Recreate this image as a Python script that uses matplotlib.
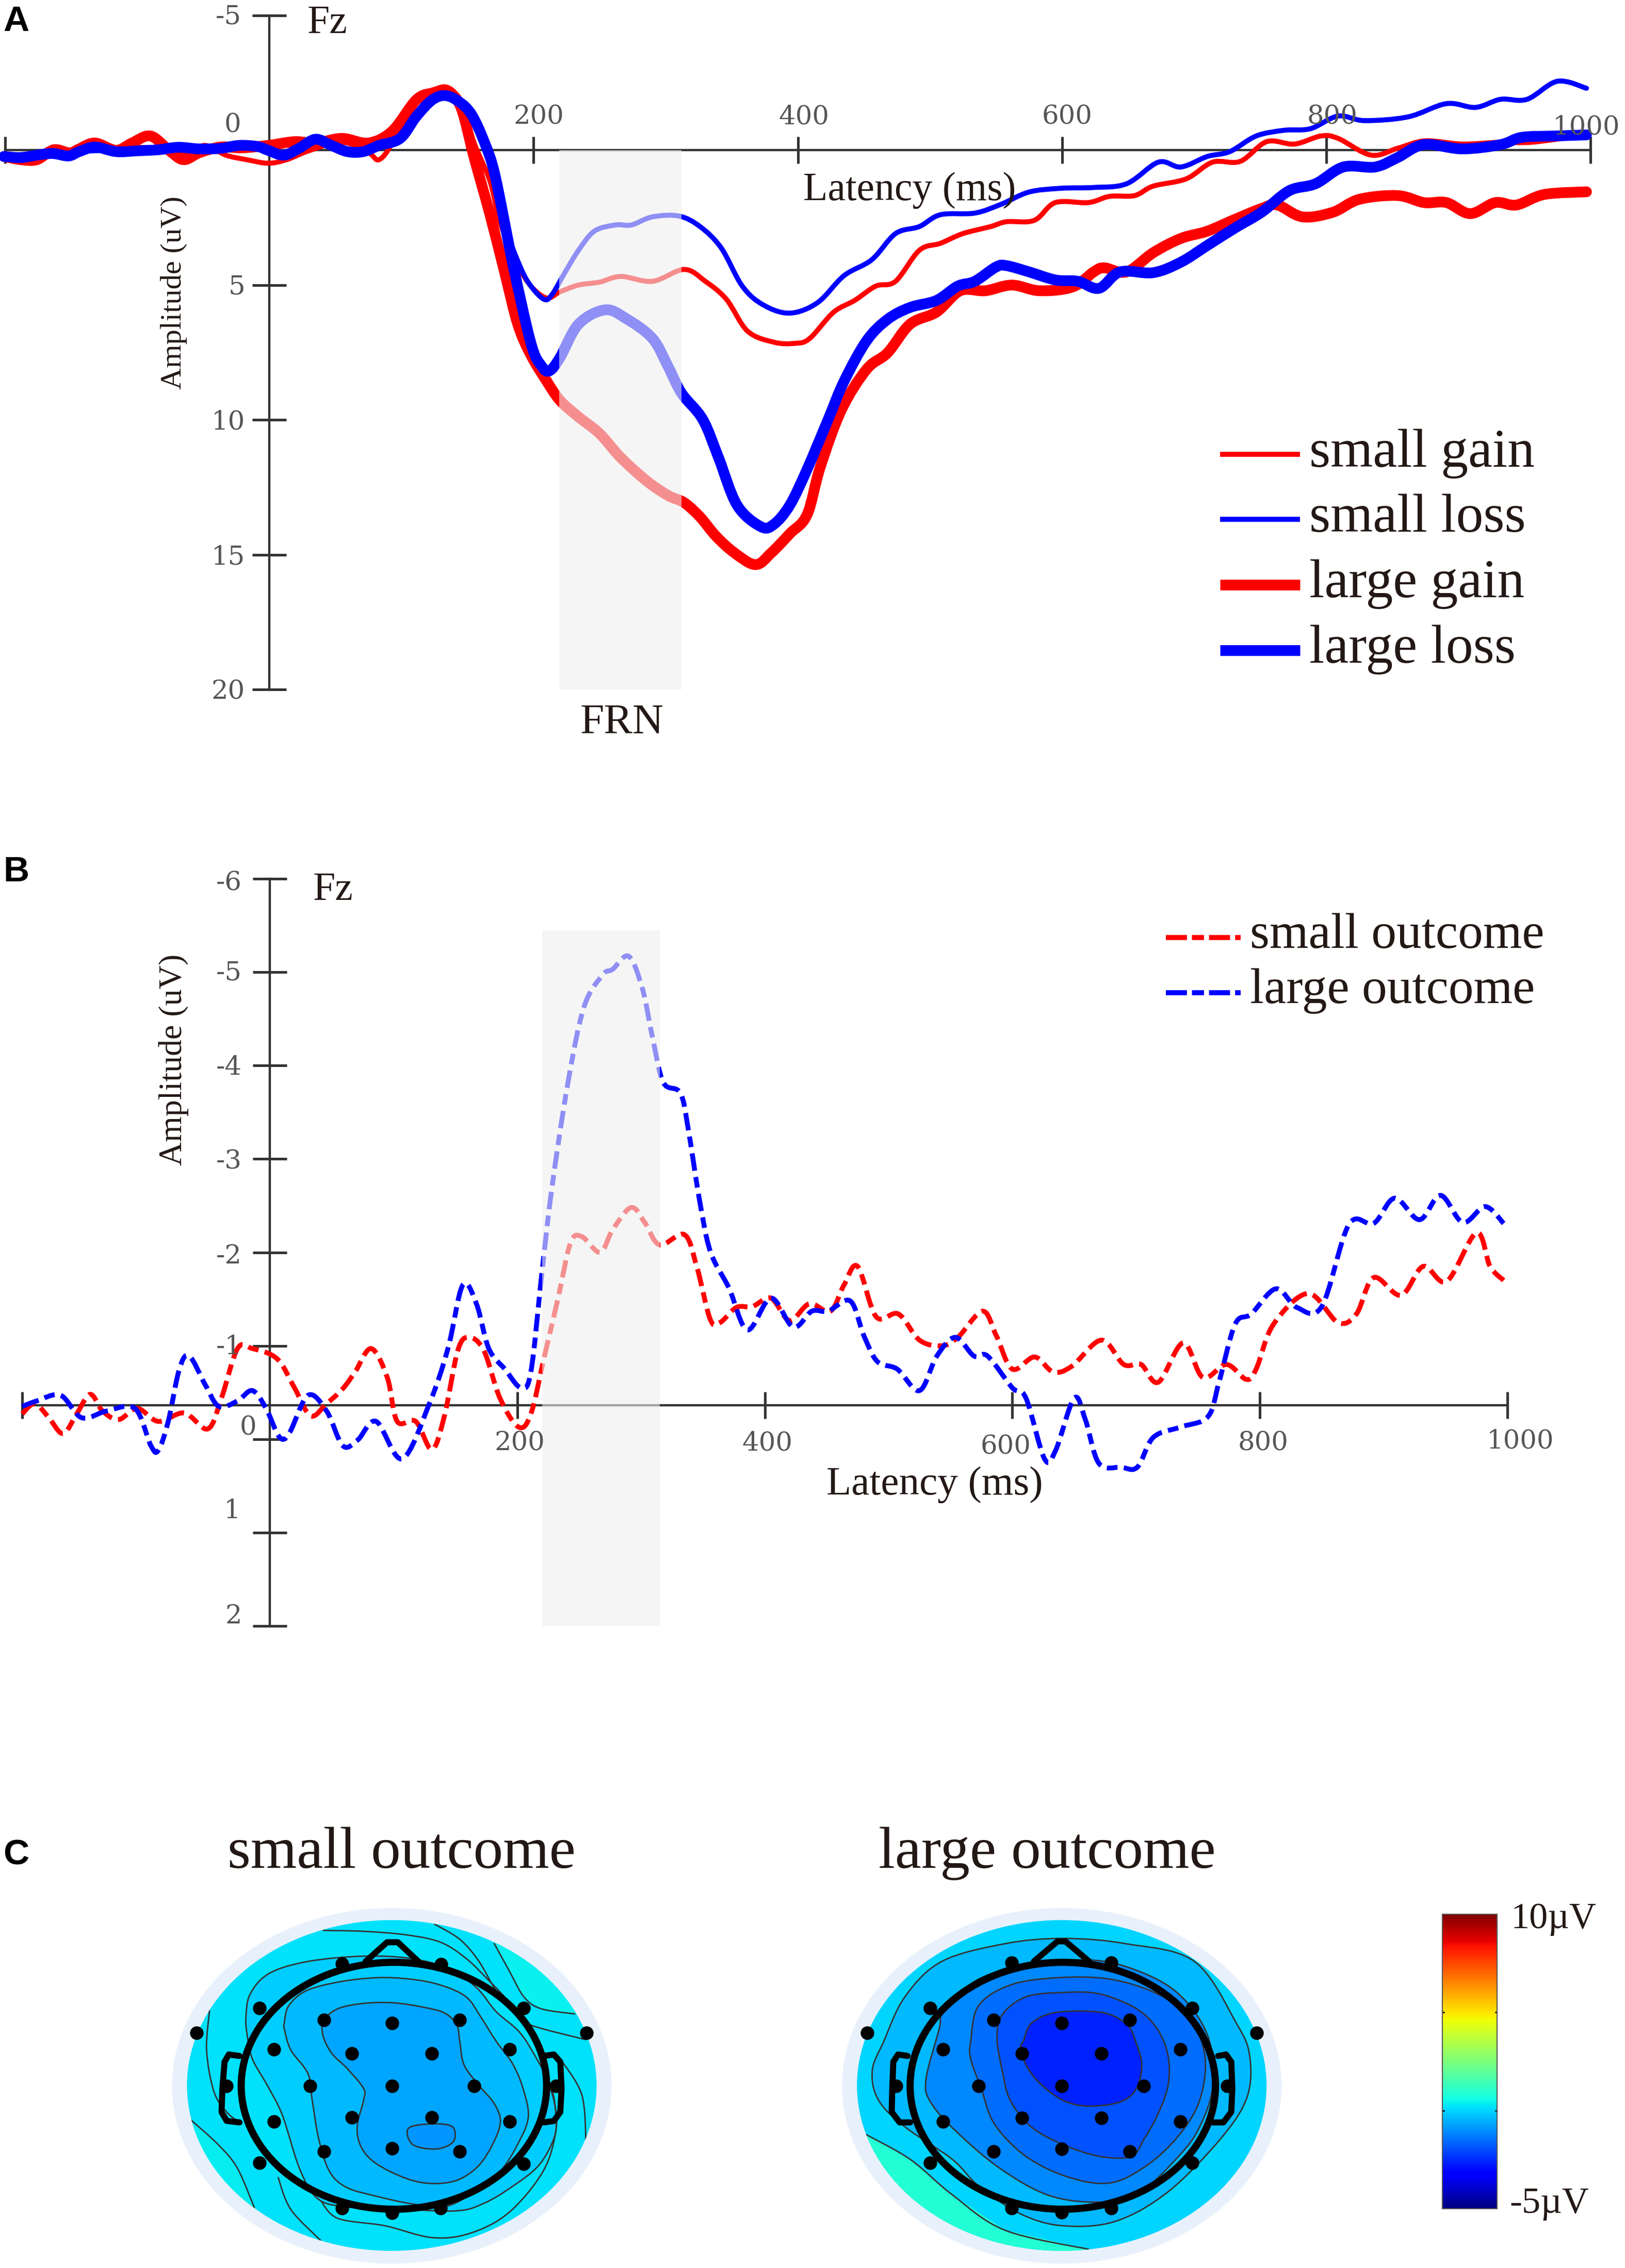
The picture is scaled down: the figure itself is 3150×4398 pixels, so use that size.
"""
ERP waveforms at Fz (panels A and B) and scalp maps of the FRN window (panel C)
"""

import matplotlib
matplotlib.use('Agg')
import matplotlib.pyplot as plt
import numpy as np
from matplotlib.cm import ScalarMappable
from matplotlib.colors import Normalize
from matplotlib.lines import Line2D
from matplotlib.patches import Ellipse, PathPatch, Polygon
from matplotlib.path import Path
from matplotlib.transforms import Affine2D

W, H = 3150, 4398
DPI = 100
SERIF = 'Liberation Serif'
DIGITS = 'DejaVu Serif'

# panel A: latency (ms) / amplitude (uV)
small_gain_t = [-201, -180, -164, -148, -132, -116, -92, -65, -49, -33, -17, -1, 13, 31, 55, 75, 83, 93, 107, 123, 135, 145, 155, 167, 175, 188, 198, 210, 220, 234, 250, 266, 290, 314, 330, 346, 362, 382, 398, 409, 427, 443, 459, 474, 492, 508, 525, 546, 558, 579, 595, 620, 636, 655, 669, 694, 714, 735, 755, 776, 796, 809, 834, 855, 875, 903, 932, 956, 997]
small_gain_v = [.27, .44, -.12, 0, -.35, -.09, -.09, .18, -.18, .18, .35, .48, .35, 0, -.3, .09, .35, -.27, -1.77, -2.21, -2.33, -1.77, -.27, 1.15, 2.74, 4.24, 5.04, 5.48, 5.25, 5.0, 4.89, 4.68, 4.86, 4.42, 4.86, 5.53, 6.71, 7.12, 7.16, 6.98, 6.01, 5.57, 5.04, 4.86, 3.71, 3.45, 3.09, 2.83, 2.65, 2.6, 1.94, 1.94, 1.71, 1.68, 1.33, 1.06, .44, .41, -.32, -.23, -.53, -.44, .18, -.09, -.35, -.23, -.3, -.3, -.57]
small_loss_t = [-201, -150, -100, -50, -10, 15, 35, 60, 85, 105, 120, 133, 145, 155, 165, 178, 190, 198, 208, 214, 224, 234, 246, 262, 274, 290, 310, 326, 342, 358, 374, 394, 415, 435, 456, 474, 492, 508, 534, 554, 575, 599, 624, 649, 673, 690, 710, 727, 747, 768, 788, 809, 829, 862, 891, 913, 932, 952, 975, 997]
small_loss_v = [.2, .05, -.02, -.05, -.1, .15, -.35, .05, -.15, -1.0, -1.8, -2.1, -1.75, -1.0, .1, 2.74, 4.33, 5.04, 5.53, 5.35, 4.51, 3.71, 3.0, 2.77, 2.77, 2.47, 2.44, 2.83, 3.62, 5.04, 5.74, 6.04, 5.65, 4.65, 4.06, 3.09, 2.83, 2.39, 2.33, 2.0, 1.55, 1.41, 1.38, 1.24, .44, .62, .23, .05, -.53, -.74, -.8, -1.27, -1.1, -1.24, -1.73, -1.59, -1.89, -1.89, -2.56, -2.3]
large_gain_t = [-201, -188, -176, -164, -152, -144, -132, -116, -104, -90, -76, -65, -53, -37, -21, -1, 19, 35, 55, 75, 93, 111, 123, 135, 145, 155, 167, 178, 188, 198, 210, 220, 234, 250, 266, 286, 302, 314, 326, 338, 352, 368, 380, 394, 407, 417, 433, 452, 468, 485, 505, 523, 542, 562, 583, 608, 624, 632, 649, 669, 690, 710, 731, 751, 763, 782, 805, 825, 854, 874, 891, 909, 928, 944, 965, 997]
large_gain_v = [.23, .35, .35, 0, .12, -.05, -.27, 0, -.27, -.53, 0, .35, .09, -.12, -.09, -.18, -.32, -.27, -.44, -.27, -.71, -1.86, -2.12, -2.17, -1.59, .27, 2.39, 4.51, 6.45, 7.6, 8.57, 9.28, 9.89, 10.51, 11.4, 12.28, 12.81, 13.07, 13.6, 14.31, 14.93, 15.37, 14.93, 14.22, 13.52, 11.75, 9.63, 8.13, 7.51, 6.45, 6.0, 5.21, 5.21, 5.0, 5.21, 5.07, 4.51, 4.36, 4.51, 3.8, 3.27, 3.0, 2.56, 2.16, 2.03, 2.47, 2.3, 1.82, 1.68, 1.94, 1.94, 2.35, 1.94, 2.03, 1.64, 1.54]
large_loss_t = [-201, -188, -176, -164, -152, -144, -132, -116, -100, -84, -69, -53, -37, -23, -9, -1, 11, 23, 35, 47, 59, 71, 83, 99, 111, 123, 133, 143, 153, 163, 171, 184, 198, 206, 212, 220, 234, 254, 270, 290, 302, 312, 328, 340, 354, 372, 382, 394, 407, 423, 435, 452, 468, 485, 505, 521, 534, 550, 558, 575, 595, 612, 628, 644, 669, 690, 710, 731, 751, 772, 792, 813, 837, 854, 874, 903, 932, 948, 973, 997]
large_loss_v = [.23, .27, .18, .12, .21, .05, -.12, .05, .02, -.02, -.11, -.05, -.07, -.18, -.14, 0, .18, -.09, -.41, -.18, .05, .05, -.18, -.44, -1.24, -1.86, -2.03, -1.82, -1.33, -.27, .97, 4.15, 7.16, 8.0, 8.18, 7.69, 6.45, 5.92, 6.24, 6.98, 8.04, 9.01, 9.98, 11.4, 13.16, 13.96, 13.87, 13.16, 11.84, 9.98, 8.57, 7.07, 6.27, 5.83, 5.57, 5.04, 4.86, 4.33, 4.28, 4.51, 4.81, 4.86, 5.12, 4.51, 4.54, 4.15, 3.53, 2.88, 2.3, 1.5, 1.24, .62, .62, .27, -.21, -.05, -.21, -.48, -.53, -.57]

# panel B: latency (ms) / amplitude (uV)
small_outcome_t = [-200, -190, -179, -167, -156, -145, -135, -122, -107, -90, -69, -50, -39, -26, -14, 6, 20, 33, 46, 59, 69, 82, 95, 103, 118, 131, 141, 152, 161, 173, 186, 201, 211, 222, 233, 243, 252, 267, 277, 292, 303, 315, 335, 345, 356, 364, 377, 390, 405, 420, 436, 453, 464, 475, 490, 508, 525, 543, 556, 576, 587, 600, 618, 633, 648, 672, 690, 704, 718, 738, 754, 773, 789, 797, 811, 839, 863, 878, 892, 914, 932, 951, 975, 986, 997]
small_outcome_v = [-.27, -.38, -.24, -.06, -.27, -.48, -.3, -.21, -.33, -.19, -.28, -.11, -.44, -.97, -.97, -.86, -.55, -.25, -.38, -.54, -.72, -.97, -.66, -.19, -.19, .11, -.24, -.95, -1.09, -.95, -.44, -.13, -.27, -.89, -1.51, -2.1, -2.17, -2.0, -2.24, -2.48, -2.32, -2.08, -2.19, -1.85, -1.28, -1.25, -1.41, -1.42, -1.51, -1.27, -1.45, -1.37, -1.65, -1.85, -1.31, -1.34, -1.06, -1.0, -1.09, -1.37, -1.11, -.75, -.88, -.72, -.78, -1.06, -.8, -.8, -.61, -1.03, -.66, -.8, -.64, -.75, -1.23, -1.56, -1.25, -1.34, -1.73, -1.54, -1.85, -1.69, -2.21, -1.85, -1.7]
large_outcome_t = [-200, -188, -169, -152, -132, -109, -96, -90, -82, -73, -65, -52, -41, -26, -14, -3, 8, 16, 31, 46, 59, 71, 86, 107, 129, 144, 156, 167, 177, 190, 203, 211, 220, 228, 241, 254, 269, 277, 290, 301, 309, 318, 332, 339, 347, 356, 371, 386, 405, 423, 438, 451, 469, 480, 491, 507, 525, 539, 554, 569, 580, 600, 611, 626, 635, 650, 659, 670, 688, 701, 714, 736, 758, 767, 780, 793, 813, 830, 850, 872, 892, 909, 929, 946, 964, 982, 997]
large_outcome_v = [-.35, -.41, -.47, -.23, -.3, -.33, .07, .12, -.19, -.75, -.89, -.58, -.35, -.41, -.52, -.33, -.02, -.07, -.47, -.3, .07, .01, -.19, .21, -.38, -.97, -1.65, -1.45, -.97, -.75, -.55, -.72, -1.79, -2.69, -3.82, -4.63, -4.97, -5.03, -5.17, -4.83, -4.32, -3.82, -3.7, -3.25, -2.58, -2.01, -1.62, -1.17, -1.51, -1.2, -1.37, -1.37, -1.48, -1.11, -.83, -.75, -.52, -.89, -1.09, -.89, -.89, -.55, -.44, .21, .12, -.44, -.21, .26, .3, .3, -.02, -.13, -.24, -.61, -1.23, -1.34, -1.61, -1.41, -1.42, -2.3, -2.31, -2.58, -2.35, -2.61, -2.32, -2.49, -2.31]

latency_ticks = [-200, 200, 400, 600, 800, 1000]
latency_labels = ['200', '400', '600', '800', '1000']
amp_ticks_a = [-5, 0, 5, 10, 15, 20]
amp_ticks_b = [-6, -5, -4, -3, -2, -1, 0, 1, 2]
frn_a = (219.5, 312)
frn_b = (220, 315)

legend_a = ['small gain', 'small loss', 'large gain', 'large loss']
legend_b = ['small outcome', 'large outcome']

# panel C: electrode sites and contour lines, in traced map units
sites_small = [(460, 772), (1372, 772), (607, 688), (1224, 688), (800, 538), (1031, 540), (757, 728), (917, 738), (1075, 728), (641, 828), (823, 842), (1009, 842), (1192, 828), (530, 952), (725, 952), (917, 952), (1108, 952), (1300, 952), (641, 1072), (823, 1058), (1009, 1058), (1192, 1072), (757, 1173), (917, 1163), (1075, 1173), (607, 1212), (1224, 1215), (800, 1365), (917, 1382), (1030, 1365)]
sites_large = [(128, 772), (868, 772), (248, 688), (746, 688), (403, 535), (592, 535), (368, 728), (627, 728), (498, 738), (272, 828), (422, 842), (573, 842), (723, 828), (183, 952), (340, 952), (498, 952), (654, 952), (812, 952), (272, 1072), (422, 1060), (573, 1060), (723, 1072), (368, 1173), (498, 1165), (627, 1173), (248, 1212), (746, 1212), (403, 1365), (498, 1380), (592, 1365)]

# closed contours, outermost first, with the level (uV) inside each
small_levels = [-0.12, -0.42, -0.7]
small_regions = [
    [(575, 720), (585, 640), (630, 570), (720, 530), (850, 512), (960, 520), (1050, 555), (1115, 620), (1160, 700), (1215, 770), (1255, 860), (1290, 960), (1300, 1060), (1295, 1130), (1260, 1220), (1200, 1290), (1130, 1350), (1060, 1375), (900, 1365), (800, 1360), (740, 1330), (700, 1230), (660, 1050), (625, 950), (590, 860), (578, 780)],
    [(665, 735), (675, 680), (715, 630), (790, 600), (880, 585), (960, 590), (1030, 610), (1090, 650), (1125, 720), (1160, 800), (1200, 880), (1225, 970), (1235, 1060), (1210, 1150), (1170, 1240), (1110, 1310), (1040, 1360), (960, 1350), (880, 1325), (810, 1295), (770, 1240), (745, 1130), (730, 1000), (720, 910), (680, 830), (665, 760)],
    [(757, 730), (790, 690), (850, 672), (920, 670), (990, 685), (1040, 705), (1068, 745), (1075, 800), (1085, 880), (1120, 950), (1155, 1010), (1170, 1070), (1155, 1140), (1120, 1220), (1070, 1270), (1010, 1282), (950, 1265), (880, 1215), (845, 1160), (835, 1090), (850, 1000), (850, 960), (810, 890), (775, 840), (755, 780)],
]
small_minimum = [(955, 1095), (1010, 1080), (1058, 1090), (1060, 1140), (1020, 1165), (965, 1150)]
small_minimum_level = -0.95
small_open = [
    [(755, 425), (850, 428), (950, 440), (1030, 465), (1090, 520), (1140, 590), (1180, 650)],
    [(1015, 403), (1075, 455), (1120, 530), (1160, 630), (1200, 700), (1240, 745), (1370, 795)],
    [(1155, 468), (1190, 560), (1225, 650), (1265, 690), (1345, 708)],
    [(490, 695), (483, 830), (500, 970), (530, 1040), (560, 1075)],
    [(445, 1065), (510, 1150), (555, 1230), (595, 1365)],
    [(650, 1260), (680, 1370), (750, 1475)],
    [(750, 1340), (790, 1400), (900, 1425), (1010, 1465), (1100, 1450), (1190, 1380), (1270, 1240), (1300, 1100), (1295, 1000), (1270, 900)],
    [(1310, 860), (1360, 980), (1370, 1140)],
]
small_corner = [(1155, 468), (1190, 560), (1225, 650), (1265, 690), (1345, 708), (1450, 700), (1450, 350), (1155, 350)]
small_corner2 = [(445, 1065), (510, 1150), (555, 1230), (595, 1365), (600, 1560), (400, 1560), (400, 1065)]

large_levels = [-0.4, -1.1, -1.5, -1.95, -2.6]
large_regions = [
    [(138, 900), (160, 800), (200, 650), (270, 530), (390, 470), (500, 452), (620, 470), (750, 530), (830, 740), (855, 850), (850, 990), (800, 1130), (700, 1310), (600, 1410), (500, 1425), (420, 1385), (340, 1290), (290, 1200), (200, 1090), (150, 1000)],
    [(240, 930), (265, 760), (275, 690), (340, 590), (430, 545), (550, 525), (640, 560), (720, 640), (775, 780), (785, 950), (760, 1090), (720, 1190), (640, 1320), (560, 1345), (470, 1320), (380, 1230), (300, 1110), (250, 1010)],
    [(325, 800), (340, 680), (400, 610), (490, 585), (590, 590), (680, 640), (740, 720), (770, 850), (760, 1000), (720, 1120), (660, 1220), (590, 1280), (510, 1260), (430, 1190), (370, 1080), (345, 960), (325, 860)],
    [(375, 790), (385, 710), (430, 650), (500, 635), (570, 640), (640, 690), (680, 760), (700, 850), (700, 950), (680, 1050), (655, 1130), (630, 1190), (570, 1190), (500, 1150), (440, 1090), (400, 1000), (385, 900)],
    [(425, 800), (440, 740), (480, 705), (540, 698), (590, 710), (625, 750), (640, 810), (650, 880), (640, 960), (610, 1005), (550, 1020), (500, 1000), (455, 940), (430, 880), (420, 820)],
]
large_open = [
    [(125, 1115), (210, 1200), (290, 1320), (390, 1440), (550, 1505)],
]
large_corner = [(125, 1115), (210, 1200), (290, 1320), (390, 1440), (550, 1505), (550, 1560), (60, 1560), (60, 1115)]

px = Affine2D().scale(1, -1).translate(0, H)


def px_axes(fig, left, top, right, bottom):
    """Axes placed by its edges in image pixels"""
    ax = fig.add_axes([left / W, 1 - bottom / H, (right - left) / W, (bottom - top) / H])
    ax.patch.set_visible(False)
    return ax


def put_text(fig, x, y, s, size, color='#231815', ha='center', **kw):
    kw.setdefault('family', SERIF)
    fig.text(x, y + 5, s, transform=px, fontsize=size, color=color, ha=ha, va='center', **kw)


def smooth_path(x, y, closed=False):
    """Bezier path through the read points (Catmull-Rom handles)"""
    pts = np.column_stack([x, y]).astype(float)
    if closed:
        pts = np.vstack([pts[-1], pts, pts[:2]])
    else:
        pts = np.vstack([pts[0], pts, pts[-1]])
    verts = [pts[1]]
    for i in range(1, len(pts) - 2):
        verts.append(pts[i] + (pts[i + 1] - pts[i - 1]) / 6)
        verts.append(pts[i + 1] - (pts[i + 2] - pts[i]) / 6)
        verts.append(pts[i + 1])
    codes = [Path.MOVETO] + [Path.CURVE4] * (len(verts) - 1)
    return Path(verts, codes)


def wave(ax, t, v, color, lw, **kw):
    kw.setdefault('capstyle', 'round')
    ax.add_patch(PathPatch(smooth_path(t, v), fill=False, ec=color, lw=lw, zorder=3, clip_on=False,
                           joinstyle='round', **kw))


def waveform_axes(fig, rect, ylim, y_ticks, x_line):
    ax = px_axes(fig, *rect)
    ax.set_xlim(-200, 1000)
    ax.set_ylim(*ylim)
    for side in ('top', 'right'):
        ax.spines[side].set_visible(False)
    ax.spines['left'].set_position(('data', 0))
    ax.spines['bottom'].set_position(('data', x_line))
    ax.spines['left'].set_bounds(y_ticks[0], y_ticks[-1])
    for side in ('left', 'bottom'):
        ax.spines[side].set(linewidth=3.2, color='#333333', zorder=1)
    ax.set_xticks(latency_ticks, labels=[])
    ax.set_yticks(y_ticks, labels=[])
    ax.tick_params(axis='both', direction='inout', length=47, width=3.6, color='#333333', zorder=1)
    ax.tick_params(axis='x', length=38)
    return ax


def panel_a(fig):
    ax = waveform_axes(fig, (10, 30, 3083, 1337), (20, -5), amp_ticks_a, 0)
    wave(ax, small_gain_t, small_gain_v, '#ff0000', 7)
    wave(ax, small_loss_t, small_loss_v, '#0000ff', 7)
    wave(ax, large_gain_t, large_gain_v, '#ff0000', 15)
    wave(ax, large_loss_t, large_loss_v, '#0000ff', 15)
    ax.axvspan(*frn_a, ymin=0, ymax=20 / 25, color='#efefef', alpha=0.6, lw=0, zorder=4)

    for x, s in zip([1044, 1558, 2069, 2583], latency_labels):
        put_text(fig, x, 222, s, 37, color='#555555', family=DIGITS)
    put_text(fig, 3075, 242, '1000', 37, color='#555555', family=DIGITS)
    put_text(fig, 1763, 364, 'Latency (ms)', 56)
    for y, s, right in zip([28, 238, 552, 814, 1076, 1337], ['-5', '0', '5', '10', '15', '20'],
                           [468, 467, 475, 475, 475, 475]):
        put_text(fig, right, y, s, 37, color='#555555', ha='right', family=DIGITS)
    put_text(fig, 337, 563, 'Amplitude (uV)', 42, rotation=90)
    put_text(fig, 635, 40, 'Fz', 56)
    put_text(fig, 1206, 1397, 'FRN', 60)

    rows = [881, 1007, 1134, 1261]
    styles = [('#ff0000', 7), ('#0000ff', 7), ('#ff0000', 15), ('#0000ff', 15)]
    for y, s, (color, lw) in zip(rows, legend_a, styles):
        fig.add_artist(Line2D([2365, 2520], [y, y], transform=px, color=color, lw=lw, solid_capstyle='butt'))
        put_text(fig, 2538, y - 6, s, 76, ha='left')


def panel_b(fig):
    dash = (0, (3.6, 1.3, 2.2, 1.3))
    ax = waveform_axes(fig, (43, 1704, 2922, 3153), (2, -6), amp_ticks_b, -0.365)
    wave(ax, small_outcome_t, small_outcome_v, '#ff0000', 6.8, ls=dash, capstyle='butt')
    wave(ax, large_outcome_t, large_outcome_v, '#0000ff', 6.8, ls=dash, capstyle='butt')
    ax.axvspan(*frn_b, ymin=0, ymax=7.45 / 8, color='#efefef', alpha=0.6, lw=0, zorder=4)

    for x, y, s in zip([1007, 1487, 1950, 2449, 2947], [2794, 2794, 2801, 2794, 2790], latency_labels):
        put_text(fig, x, y, s, 37, color='#555555', family=DIGITS)
    put_text(fig, 1812, 2874, 'Latency (ms)', 57)
    rows = [1708, 1882, 2065, 2248, 2431, 2607, 2764, 2925, 3129]
    rights = [469, 469, 469, 469, 469, 469, 497, 466, 469]
    for y, right, s in zip(rows, rights, ['-6', '-5', '-4', '-3', '-2', '-1', '0', '1', '2']):
        put_text(fig, right, y, s, 37, color='#555555', ha='right', family=DIGITS)
    put_text(fig, 337, 2050, 'Amplitude (uV)', 46, rotation=90)
    put_text(fig, 646, 1721, 'Fz', 56)

    for y, s, color in zip([1818, 1925], legend_b, ['#ff0000', '#0000ff']):
        fig.add_artist(Line2D([2260, 2405], [y, y], transform=px, color=color, lw=7, ls=(0, (4.2, 1, 2.4, 1))))
        put_text(fig, 2423, y - 8, s, 70, ha='left')


def scalp_map(fig, rect, center, head_x, base_level, regions, levels, extra, lines, sites, ears, nose):
    ax = px_axes(fig, *rect)
    ax.set_xlim(0, 1568)
    ax.set_ylim(1568, 0)
    ax.axis('off')
    norm = Normalize(-5, 10)
    jet = plt.get_cmap('jet')
    scale_x = 1568 / (rect[2] - rect[0])

    ax.add_patch(Ellipse((center, 951), 2 * 426 * scale_x, 1204, fc='#e8f1fb', lw=0))
    disc = Ellipse((center, 950), 2 * 397 * scale_x, 1120, fc=jet(norm(base_level)), lw=0)
    ax.add_patch(disc)
    for pts, level in extra:
        ax.add_patch(Polygon(pts, fc=jet(norm(level)), lw=0, clip_path=disc))
    for pts, level in zip(regions, levels):
        ax.add_patch(PathPatch(smooth_path(*zip(*pts), closed=True), fc=jet(norm(level)), ec='#333333', lw=2,
                               clip_path=disc))
    for pts in lines:
        ax.add_patch(PathPatch(smooth_path(*zip(*pts)), fill=False, ec='#333333', lw=2, clip_path=disc))

    for pts in ears + [nose]:
        ax.plot(*zip(*pts), color='black', lw=8.5, solid_joinstyle='round', solid_capstyle='round')
    ax.add_patch(Ellipse((head_x, 951), 2 * 296 * scale_x, 836, fc='none', ec='black', lw=10))
    ax.scatter(*zip(*sites), s=360, color='black', lw=0, zorder=5)


def panel_c(fig):
    put_text(fig, 778, 3589, 'small outcome', 83)
    put_text(fig, 2030, 3589, 'large outcome', 83)
    scalp_map(fig, (0, 3500, 1300, 4398), 916, 921, 0.2, small_regions + [small_minimum],
              small_levels + [small_minimum_level],
              [(small_corner, 0.42), (small_corner2, 0.35)], small_open, sites_small,
              [[(560, 850), (535, 845), (525, 870), (520, 960), (518, 1040), (530, 1070), (560, 1075)],
               [(1272, 850), (1295, 845), (1310, 870), (1313, 960), (1310, 1040), (1295, 1070), (1272, 1075)]],
              [(855, 530), (905, 465), (930, 465), (978, 530)])
    scalp_map(fig, (1550, 3500, 3150, 4398), 498, 500, 0.0, large_regions, large_levels,
              [(large_corner, 0.9)], large_open, sites_large,
              [[(205, 850), (187, 845), (178, 870), (176, 960), (175, 1040), (190, 1075), (210, 1075)],
               [(795, 850), (810, 845), (820, 870), (822, 960), (820, 1040), (805, 1075), (785, 1075)]],
              [(445, 530), (490, 462), (505, 462), (550, 530)])

    cax = px_axes(fig, 2796, 3712, 2902, 4283)
    bar = fig.colorbar(ScalarMappable(Normalize(-5, 10), 'jet'), cax=cax, ticks=[0, 5])
    bar.set_ticklabels([])
    bar.outline.set(edgecolor='#555555', linewidth=1.5)
    cax.tick_params(direction='in', length=3, width=2, left=True, right=True, color='black')
    put_text(fig, 3012, 3716, '10\u00b5V', 52)
    put_text(fig, 3003, 4269, '-5\u00b5V', 52)


def main():
    fig = plt.figure(figsize=(W / DPI, H / DPI), dpi=DPI, facecolor='white')
    panel_a(fig)
    panel_b(fig)
    panel_c(fig)
    for y, s in zip([37, 1686, 3592], 'ABC'):
        put_text(fig, 6, y, s, 50, color='black', ha='left', family='Liberation Sans', fontweight='bold')
    fig.savefig('out.png', dpi=DPI)


if __name__ == '__main__':
    main()
